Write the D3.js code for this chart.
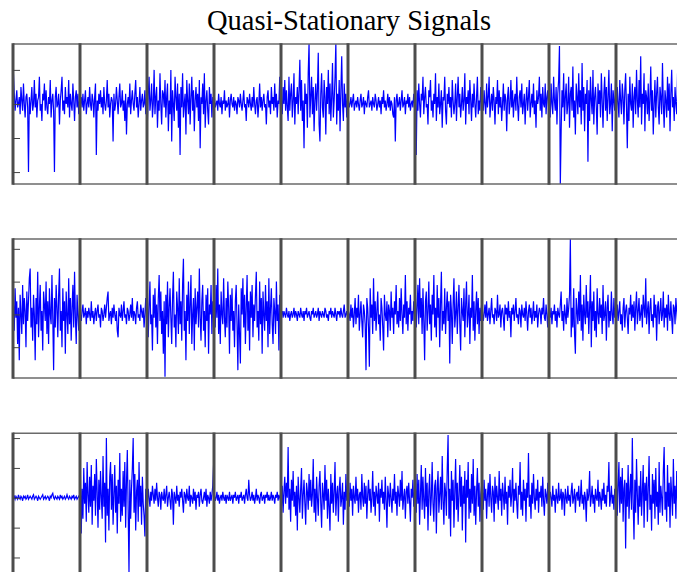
<!DOCTYPE html>
<html><head><meta charset="utf-8">
<script src="https://cdn.jsdelivr.net/npm/d3@7"></script>
<style>html,body{margin:0;padding:0;background:#fff;}svg{display:block;}</style>
</head><body>
<svg id="chart" width="677" height="572"></svg>
<script>
const titleText = "Quasi-Stationary Signals";
const segmentCount = 10;
const pointsPerSegment = 80;

// Signal values (tenths of a unit), one array per segment
const sig1 = [
 [9,3,-2,1,4,-1,0,2,-3,5, 1,-2,6,0,-4,2,3,-1,-20,2, -3,1,5,-2,0,7,-1,3,-4,1, 2,8,-2,0,-5,3,1,6,-2,4, -1,-3,2,0,7,-4,1,3,-2,-20, 2,5,-1,0,3,-6,1,4,8,-2, 1,-3,5,0,2,-1,7,-4,3,0, -2,6,1,-5,2,4,-1,3,-3,1],
 [0,2,-1,3,-2,1,4,-3,0,2, -1,5,0,-2,3,1,-4,2,6,-15, 1,-2,3,0,4,-1,2,-3,5,0, -2,1,7,-1,3,-4,0,2,1,-11, 3,-2,0,5,1,-3,2,6,-1,0, 4,-2,1,-5,3,-9,0,2,-1,6, -3,1,4,0,-2,3,7,-1,2,-4, 0,5,-2,1,3,-1,0,4,-3,2],
 [-5,3,8,-2,1,6,-4,0,10,-3, 2,5,-7,1,-2,9,0,-6,4,3, -1,7,-4,2,6,-8,1,-3,10,-11, 4,0,-5,8,2,-2,6,-7,3,-15, 5,-1,9,-4,0,3,-9,7,1,-3, 6,-6,2,8,-2,4,-8,1,5,-1, 3,-5,7,-13,2,0,6,-3,9,-7, 1,4,-2,-6,5,0,3,-4,2,1],
 [2,-1,0,1,-2,3,0,-1,2,-3, 1,0,4,-2,1,-1,0,2,-4,1, 3,0,-1,2,-2,1,0,-3,2,1, -1,3,0,-2,1,4,-1,0,-5,2, 1,-1,3,0,-2,2,-1,5,0,-3, 1,2,-4,0,6,-1,2,-2,1,3, -1,0,-6,2,4,-1,1,-3,5,0, 2,-2,6,-1,3,-4,1,0,8,-2],
 [1,-3,5,0,7,-2,4,-1,-5,8, -2,3,6,-4,1,9,-6,2,0,5, -3,4,13,-2,7,-5,1,-13,6,0, 3,-7,9,18,-4,2,8,-3,5,-8, 1,6,-2,4,15,-6,-11,3,9,-1, -4,7,2,-9,5,0,10,-3,6,-5, 2,12,-4,1,8,18,-6,3,-2,7, -8,4,14,0,-5,6,-1,3,-4,2],
 [1,-1,0,2,-1,1,3,-2,0,1, -1,2,0,-2,1,3,-1,0,2,-3, 1,0,-1,2,4,-1,0,1,-2,2, 0,-1,3,1,-2,0,2,-1,1,-3, 2,0,4,-1,1,-2,0,3,-1,2, -2,1,0,-3,-4,2,-11,1,3,-1, 0,2,-2,1,4,-1,0,2,-3,1, 0,3,-1,2,-2,0,1,-1,3,0],
 [2,-15,4,-2,6,0,-4,3,1,8, -3,2,5,-1,0,-6,4,2,7,-2, 1,-4,3,0,9,-5,2,-1,6,-3, 0,4,-7,2,1,8,-2,-6,3,0, 5,-1,2,-4,7,1,-3,0,6,-5, 2,8,-1,3,-4,0,5,-2,1,9, -6,2,0,4,-3,7,1,-5,3,-1, 6,0,-4,2,8,-3,1,-2,5,0],
 [1,-2,4,0,-3,6,-1,2,8,-4, 0,3,-2,5,1,-6,2,0,7,-3, 4,-1,2,-5,0,6,-2,3,1,-8, 2,5,-3,0,7,-1,4,-4,1,3, -2,8,0,-5,2,4,-1,6,-3,0, 3,-6,1,5,-2,2,7,-4,0,3, -1,6,-3,1,-7,4,0,2,8,-2, 3,-4,5,0,-1,6,-3,2,4,-1],
 [2,-4,6,0,-3,8,1,-2,5,-6, 3,7,17,-24,-8,4,-1,9,-5,2, 6,-3,0,8,-7,3,5,-2,11,-4, 1,-9,6,2,-3,9,-1,4,-6,12, -2,5,-8,3,0,7,-17,4,-5,8, 1,-3,10,-6,2,5,-1,-9,6,0, 4,-4,9,1,-7,3,8,-2,5,-5, 2,10,-3,0,6,-8,4,1,-2,7],
 [-2,5,0,-4,7,1,-3,6,2,-6, 4,9,-1,-13,3,-5,8,0,-2,6, -7,2,5,-3,10,1,-4,7,-1,14, -6,3,0,9,-8,4,2,-3,6,-5, 1,11,-2,4,-9,0,7,-4,3,8, -1,-6,5,2,-3,12,0,-7,4,1, -4,8,-2,6,-8,3,10,-1,2,-5, 5,0,-3,9,-6,2,4,-2,7,-4]
];
const sig2 = [
 [3,-5,8,-1,4,-9,2,-14,6,0, -6,9,-3,5,1,-10,7,-2,4,11, 14,-4,2,-8,6,0,-14,5,-3,13, -7,2,9,-5,1,-11,7,3,-2,10, -6,4,-9,8,0,-3,12,-1,-17,5, -4,9,2,-7,6,14,-5,1,-10,8, -2,4,-12,7,0,-6,11,-3,5,-8, 2,9,-4,13,-1,-9,6,0,-5,3],
 [0,-2,1,3,-1,0,2,-3,1,-1, 2,0,-2,4,-1,1,-3,0,2,-2, 1,3,-1,0,-4,2,1,-2,0,3, -1,2,5,7,-2,0,1,-3,2,-1, 3,0,-2,1,-5,-7,2,0,-1,3, -2,1,4,-1,0,-3,2,1,-2,0, 3,-1,5,-2,1,0,-3,2,4,-1, 0,-2,3,1,-1,2,-4,0,5,-1],
 [5,-7,2,10,-3,0,-11,6,-1,8, -4,3,-9,5,12,-2,7,-6,1,-12, 4,-19,6,-3,10,-7,2,8,-1,-9, 5,13,-4,0,-10,7,2,-6,11,-3, 4,-8,9,17,-5,1,-14,6,-2,10, -6,3,12,-9,0,5,-11,8,-3,2, 7,-4,14,-1,-8,4,9,-5,1,-10, 6,-2,8,-12,3,0,9,-6,4,-1],
 [2,-4,9,-1,14,-6,3,-9,7,0, -3,11,-1,-7,5,-4,10,2,-12,6, -2,8,-5,1,-10,4,9,-3,-17,3, -6,-15,8,0,11,-4,6,-9,2,12, -5,4,-11,7,-1,9,-7,3,-2,6, 13,-4,1,-8,10,-3,5,-12,7,0, -5,9,-2,4,-10,11,-6,2,8,-3, -9,5,1,-6,10,-2,3,-11,6,-1],
 [0,1,-1,1,0,-1,2,0,-1,1, -2,0,1,-1,0,2,-1,1,0,-2, 1,0,-1,2,0,-1,1,-2,1,0, 2,-1,0,1,-1,-2,1,0,2,-1, 0,1,-1,0,2,-2,1,0,-1,1, 0,-1,2,1,-1,0,-2,1,0,2, -1,1,0,-1,2,0,-2,1,0,1, -1,2,0,-1,1,3,-1,0,1,-1],
 [1,0,-2,3,-1,2,-4,0,5,-3, 2,-1,6,-5,0,4,-2,-7,3,1, -3,-17,5,2,-4,-16,8,-1,3,-6, 11,-2,4,-5,1,7,-3,0,-8,5, 2,-4,-11,6,0,-2,4,-7,3,1, -5,7,-1,2,-6,4,0,9,-3,1, -4,5,-2,8,0,-6,3,-1,12,-3, 4,-5,2,0,6,-3,1,-2,4,0],
 [6,-4,2,9,-3,11,-1,5,-6,8, -2,-14,4,7,-5,1,10,-3,3,-8, 6,0,12,-4,2,-7,9,-1,5,-10, 3,13,-5,1,-3,8,-6,2,7,-2, 4,-15,6,1,-9,3,11,-4,0,7, -6,2,9,-3,-11,5,1,-2,8,-7, 3,10,-4,0,6,-9,2,-1,12,-5, 4,-8,1,7,-3,5,-6,2,-2,3],
 [1,-2,0,3,-1,4,-2,0,2,-3, 1,5,-1,0,-3,2,1,-2,6,-1, 0,3,-4,1,2,-1,-5,3,0,2, -2,4,-1,1,-7,2,0,3,-2,1, 5,-1,0,-3,2,1,-4,3,0,-1, 2,-2,4,0,-5,1,3,-1,2,-3, 0,4,-2,1,-1,3,-4,0,2,1, -3,2,0,5,-1,-2,3,0,-4,1],
 [0,-1,2,-3,1,0,3,-2,1,-4, 2,0,-1,3,7,-2,1,-5,3,0, -3,5,-1,2,6,23,-7,2,-4,8, -6,-12,5,1,-3,7,-2,12,-5,3, -8,6,0,-3,9,-1,4,-6,2,12, -10,4,-2,7,-5,1,-7,8,0,-3, 5,-1,3,-6,9,-2,0,4,-8,2, 6,-4,1,-2,7,0,-3,5,-1,2],
 [-1,3,-2,1,4,-3,0,-5,2,5, -4,1,3,-1,-6,2,0,6,-2,3, -1,4,-5,2,7,-3,1,5,-2,0, 3,-4,6,2,-1,11,-3,1,4,-6, 2,5,-2,0,-4,6,-1,3,-8,2, 4,-3,1,5,-2,0,7,-4,2,-1, 3,-5,6,0,-2,4,-1,-6,3,2, -3,5,1,-2,4,-4,0,3,-1,2]
];
const sig3 = [
 [0,0.5,-0.5,0.5,0,-0.5,1,0,-0.5,0.5, 0,-1,0.5,0,0.5,-0.5,0,1,-0.5,0, 0.5,0,-0.5,0.5,1,-0.5,0,0.5,0,-1, 0.5,0,-0.5,0,0.5,1,-0.5,0,0.5,-0.5, 0,0.5,0,-1,0.5,0,1,1.5,0,-0.5, 0.5,0,-0.5,0.5,0,-0.5,1,0,0.5,-0.5, 0,0.5,-0.5,0,1,0,-0.5,0.5,0,-0.5, 0.5,0,1,-0.5,0,0.5,-0.5,0,0.5,0],
 [8,-12,3,-7,10,-2,5,-8,12,1, -5,7,-3,11,-9,4,-1,8,-6,13, 2,-10,6,-4,9,0,-7,14,-3,5, -15,20,-6,3,-11,7,12,-4,8,-9, 1,11,-5,4,-12,6,-2,15,-8,3, -6,9,-3,12,-10,5,16,-4,-25,6, -7,3,10,20,-5,8,-11,2,6,-8, 12,-3,4,-9,7,-2,-6,-13,3,-2],
 [-2,3,0,-3,2,-1,4,1,-2,3, -1,5,0,-3,2,1,-4,2,0,-1, 3,-2,1,4,-3,0,2,-1,-4,3, 1,-9,2,0,-2,4,-1,1,-3,2, 0,3,-1,-5,2,1,-2,3,0,-1, 4,-3,1,0,-2,3,-1,2,-4,1, 0,2,-3,1,3,-1,-2,0,2,-1, 3,-3,1,0,-2,2,-1,1,4,11],
 [1,-1,0,2,-1,1,-2,0,1,-1, 2,0,-1,1,-2,1,0,-1,2,-1, 0,1,-2,1,0,2,-1,0,1,-2, 1,0,2,-1,0,1,-2,1,3,0, -1,6,1,-1,0,2,-1,1,-2,0, 3,-1,1,0,-2,1,2,-1,0,1, -2,1,0,2,-1,1,-1,0,2,-1, 1,0,-2,1,0,2,-1,1,0,-1],
 [-3,4,-5,2,7,-2,5,0,17,-4, 3,-8,6,-1,9,-3,2,-6,4,-11, 7,0,-5,3,10,-7,1,6,-2,-9, 5,2,-4,8,-1,6,-3,1,13,-5, 3,-8,7,0,-6,4,9,-2,-10,5, 1,-4,11,-1,6,-7,3,-3,-11,8, -2,5,-5,2,12,-6,1,4,-8,3, 7,-3,0,5,-9,2,-4,8,-1,3],
 [2,-3,5,-1,3,-6,4,0,-2,7, -1,3,-5,1,2,-4,8,0,-3,5, -2,4,-7,1,6,-1,3,-5,0,9, -3,2,-6,4,1,-2,5,-8,3,0, 6,-2,2,-4,7,-1,-10,4,1,-3, 5,0,-5,3,-1,8,-2,2,-6,4, 1,-3,6,-1,9,-4,0,3,-7,2, 4,-2,5,-1,-8,3,0,6,-3,2],
 [3,-5,8,-2,6,-9,1,11,-4,7, -1,-7,10,-3,5,-11,2,8,-6,0, 12,-2,-8,4,6,-12,3,9,-5,1, 7,-4,14,-1,-9,5,2,-6,10,21, -7,3,-13,9,-1,6,-10,2,13,-4, 5,-8,1,11,-3,7,-11,4,-2,9, -15,6,0,12,-7,3,-5,8,-2,13, -6,4,-9,2,10,-3,5,-8,1,4],
 [2,-4,6,-1,3,-7,1,5,-3,8, 0,-5,4,2,-8,7,-2,4,0,-4, 9,-1,3,-6,5,1,-4,7,-2,2, -9,4,0,6,-3,1,10,-5,3,-1, 5,-2,-7,4,1,12,-4,2,-6,6, -1,3,-8,5,0,15,-3,1,-7,5, -2,8,0,-4,3,-1,6,-5,2,0, 4,-3,7,-1,-6,3,1,-2,5,-3],
 [-1,2,0,-3,4,-1,1,-5,3,0, -2,5,-1,0,3,-4,2,1,-6,3, 0,-2,4,-1,1,-3,2,5,-2,0, 3,-5,1,2,-1,4,-3,0,6,-2, 1,-4,2,0,-8,3,-1,1,9,-3, 0,4,-2,1,-5,3,0,-1,6,-3, 2,0,-4,3,-1,5,-2,1,-3,4, 2,12,-3,0,4,-2,1,-4,3,0],
 [9,-6,4,12,-5,7,-2,10,-8,3, 6,-17,5,-3,11,-7,2,8,-4,20, -2,-14,6,-5,13,1,-9,4,-3,9, -6,2,11,-10,5,-1,7,-8,3,14, -4,1,-11,8,-2,6,-7,10,-3,2, -9,12,-5,4,0,-6,9,17,-4,2, -8,11,-3,5,-10,7,1,-6,13,-2, 4,-7,9,-1,-5,8,-3,6,-9,5]
];

// Y-axis domains and tick values per panel
const yDomains = [[-2.35, 1.76], [-1.94, 2.3], [-2.52, 2.16]];
const yTicks = [[-2, -1, 0, 1], [-1, 0, 1, 2], [-2, -1, 0, 1, 2]];

const svg = d3.select("#chart");
const left = 13, right = 683;
const panels = [
  {sig: sig1, top: 44, bottom: 184},
  {sig: sig2, top: 239, bottom: 378},
  {sig: sig3, top: 433.3, bottom: 573}
];

svg.append("text")
  .attr("x", 349).attr("y", 30)
  .attr("text-anchor", "middle")
  .attr("font-family", "'Liberation Serif', 'DejaVu Serif', serif")
  .attr("font-size", 28.5)
  .attr("fill", "#000")
  .text(titleText);

const total = segmentCount * pointsPerSegment;
const x = d3.scaleLinear().domain([-0.5, total - 0.5]).range([left, right]);
const boundaries = d3.range(0, segmentCount + 1).map(k => k * pointsPerSegment - 0.5);

panels.forEach((p, pi) => {
  const y = d3.scaleLinear().domain(yDomains[pi]).range([p.bottom, p.top]);
  const values = p.sig.flat().map(v => v / 10);
  const g = svg.append("g");

  const clipId = "clip" + pi;
  svg.append("clipPath").attr("id", clipId)
    .append("rect").attr("x", left).attr("y", p.top)
    .attr("width", right - left).attr("height", p.bottom - p.top);

  const line = d3.line().x((d, i) => x(i)).y(d => y(d));
  g.append("path")
    .datum(values)
    .attr("clip-path", `url(#${clipId})`)
    .attr("fill", "none")
    .attr("stroke", "#0000ff")
    .attr("stroke-width", 1.2)
    .attr("d", line);

  g.append("line").attr("x1", left).attr("x2", right)
    .attr("y1", p.top).attr("y2", p.top)
    .attr("stroke", "#6a6a6a").attr("stroke-width", 1.6);
  g.append("line").attr("x1", left).attr("x2", right)
    .attr("y1", p.bottom).attr("y2", p.bottom)
    .attr("stroke", "#6a6a6a").attr("stroke-width", 1.6);

  g.selectAll("line.sep").data(boundaries).enter().append("line")
    .attr("class", "sep")
    .attr("x1", d => x(d)).attr("x2", d => x(d))
    .attr("y1", p.top - 0.8).attr("y2", p.bottom + 0.8)
    .attr("stroke", "#4d4d4d").attr("stroke-width", 3);

  const axis = d3.axisLeft(y).tickValues(yTicks[pi]).tickSize(-7).tickFormat("");
  const ag = g.append("g").attr("transform", `translate(${left},0)`).call(axis);
  ag.select(".domain").remove();
  ag.selectAll(".tick line").attr("stroke", "#444").attr("stroke-width", 1);
});
</script>
</body></html>
